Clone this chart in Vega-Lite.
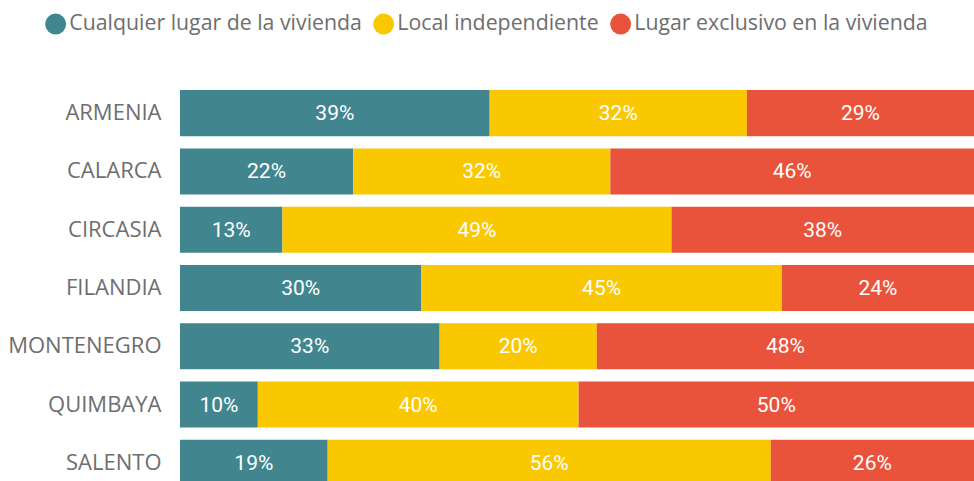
{
  "$schema": "https://vega.github.io/schema/vega-lite/v6.json",
  "autosize": "none",
  "width": 794,
  "height": 408,
  "padding": {"left": 180, "top": 84, "right": 0, "bottom": 0},
  "background": "white",
  "config": {"view": {"stroke": null}, "font": "Open Sans"},
  "data": {"values": [
    {"muni": "ARMENIA", "cat": "Cualquier lugar de la vivienda", "ord": 1, "value": 0.390},
    {"muni": "ARMENIA", "cat": "Local independiente", "ord": 2, "value": 0.324},
    {"muni": "ARMENIA", "cat": "Lugar exclusivo en la vivienda", "ord": 3, "value": 0.286},
    {"muni": "CALARCA", "cat": "Cualquier lugar de la vivienda", "ord": 1, "value": 0.218},
    {"muni": "CALARCA", "cat": "Local independiente", "ord": 2, "value": 0.324},
    {"muni": "CALARCA", "cat": "Lugar exclusivo en la vivienda", "ord": 3, "value": 0.458},
    {"muni": "CIRCASIA", "cat": "Cualquier lugar de la vivienda", "ord": 1, "value": 0.129},
    {"muni": "CIRCASIA", "cat": "Local independiente", "ord": 2, "value": 0.490},
    {"muni": "CIRCASIA", "cat": "Lugar exclusivo en la vivienda", "ord": 3, "value": 0.381},
    {"muni": "FILANDIA", "cat": "Cualquier lugar de la vivienda", "ord": 1, "value": 0.304},
    {"muni": "FILANDIA", "cat": "Local independiente", "ord": 2, "value": 0.454},
    {"muni": "FILANDIA", "cat": "Lugar exclusivo en la vivienda", "ord": 3, "value": 0.242},
    {"muni": "MONTENEGRO", "cat": "Cualquier lugar de la vivienda", "ord": 1, "value": 0.327},
    {"muni": "MONTENEGRO", "cat": "Local independiente", "ord": 2, "value": 0.198},
    {"muni": "MONTENEGRO", "cat": "Lugar exclusivo en la vivienda", "ord": 3, "value": 0.475},
    {"muni": "QUIMBAYA", "cat": "Cualquier lugar de la vivienda", "ord": 1, "value": 0.098},
    {"muni": "QUIMBAYA", "cat": "Local independiente", "ord": 2, "value": 0.404},
    {"muni": "QUIMBAYA", "cat": "Lugar exclusivo en la vivienda", "ord": 3, "value": 0.498},
    {"muni": "SALENTO", "cat": "Cualquier lugar de la vivienda", "ord": 1, "value": 0.186},
    {"muni": "SALENTO", "cat": "Local independiente", "ord": 2, "value": 0.558},
    {"muni": "SALENTO", "cat": "Lugar exclusivo en la vivienda", "ord": 3, "value": 0.256}
  ]},
  "transform": [
    {"stack": "value", "groupby": ["muni"], "sort": [{"field": "ord"}], "as": ["v0", "v1"], "offset": "normalize"},
    {"calculate": "(datum.v0 + datum.v1) / 2", "as": "mid"}
  ],
  "encoding": {
    "y": {
      "field": "muni", "type": "nominal", "sort": null, "title": null,
      "scale": {"paddingInner": 0.21, "paddingOuter": 0.105},
      "axis": {"ticks": false, "domain": false, "labelPadding": 19, "labelFontSize": 22, "labelColor": "#6e6e6e", "labelFont": "Open Sans"}
    }
  },
  "layer": [
    {
      "mark": {"type": "bar"},
      "encoding": {
        "x": {"field": "v0", "type": "quantitative", "scale": {"domain": [0, 1], "nice": false}, "axis": null},
        "x2": {"field": "v1"},
        "color": {
          "field": "cat", "type": "nominal",
          "scale": {"domain": ["Cualquier lugar de la vivienda", "Local independiente", "Lugar exclusivo en la vivienda"], "range": ["#41868F", "#FAC800", "#E9533B"]},
          "legend": {
            "orient": "none", "direction": "horizontal", "title": null,
            "legendX": -135, "legendY": -71,
            "symbolType": "circle", "symbolSize": 440, "symbolStrokeWidth": 0, "symbolOpacity": 1,
            "labelFontSize": 21.3, "labelColor": "#6e6e6e", "labelFont": "Open Sans", "labelLimit": 0,
            "labelOffset": 3, "columnPadding": 11, "padding": 0
          }
        }
      }
    },
    {
      "mark": {"type": "text", "color": "white", "fontSize": 21, "font": "Roboto", "baseline": "middle", "align": "center", "dy": 1},
      "encoding": {
        "x": {"field": "mid", "type": "quantitative"},
        "text": {"field": "value", "type": "quantitative", "format": ".0%"}
      }
    }
  ]
}
